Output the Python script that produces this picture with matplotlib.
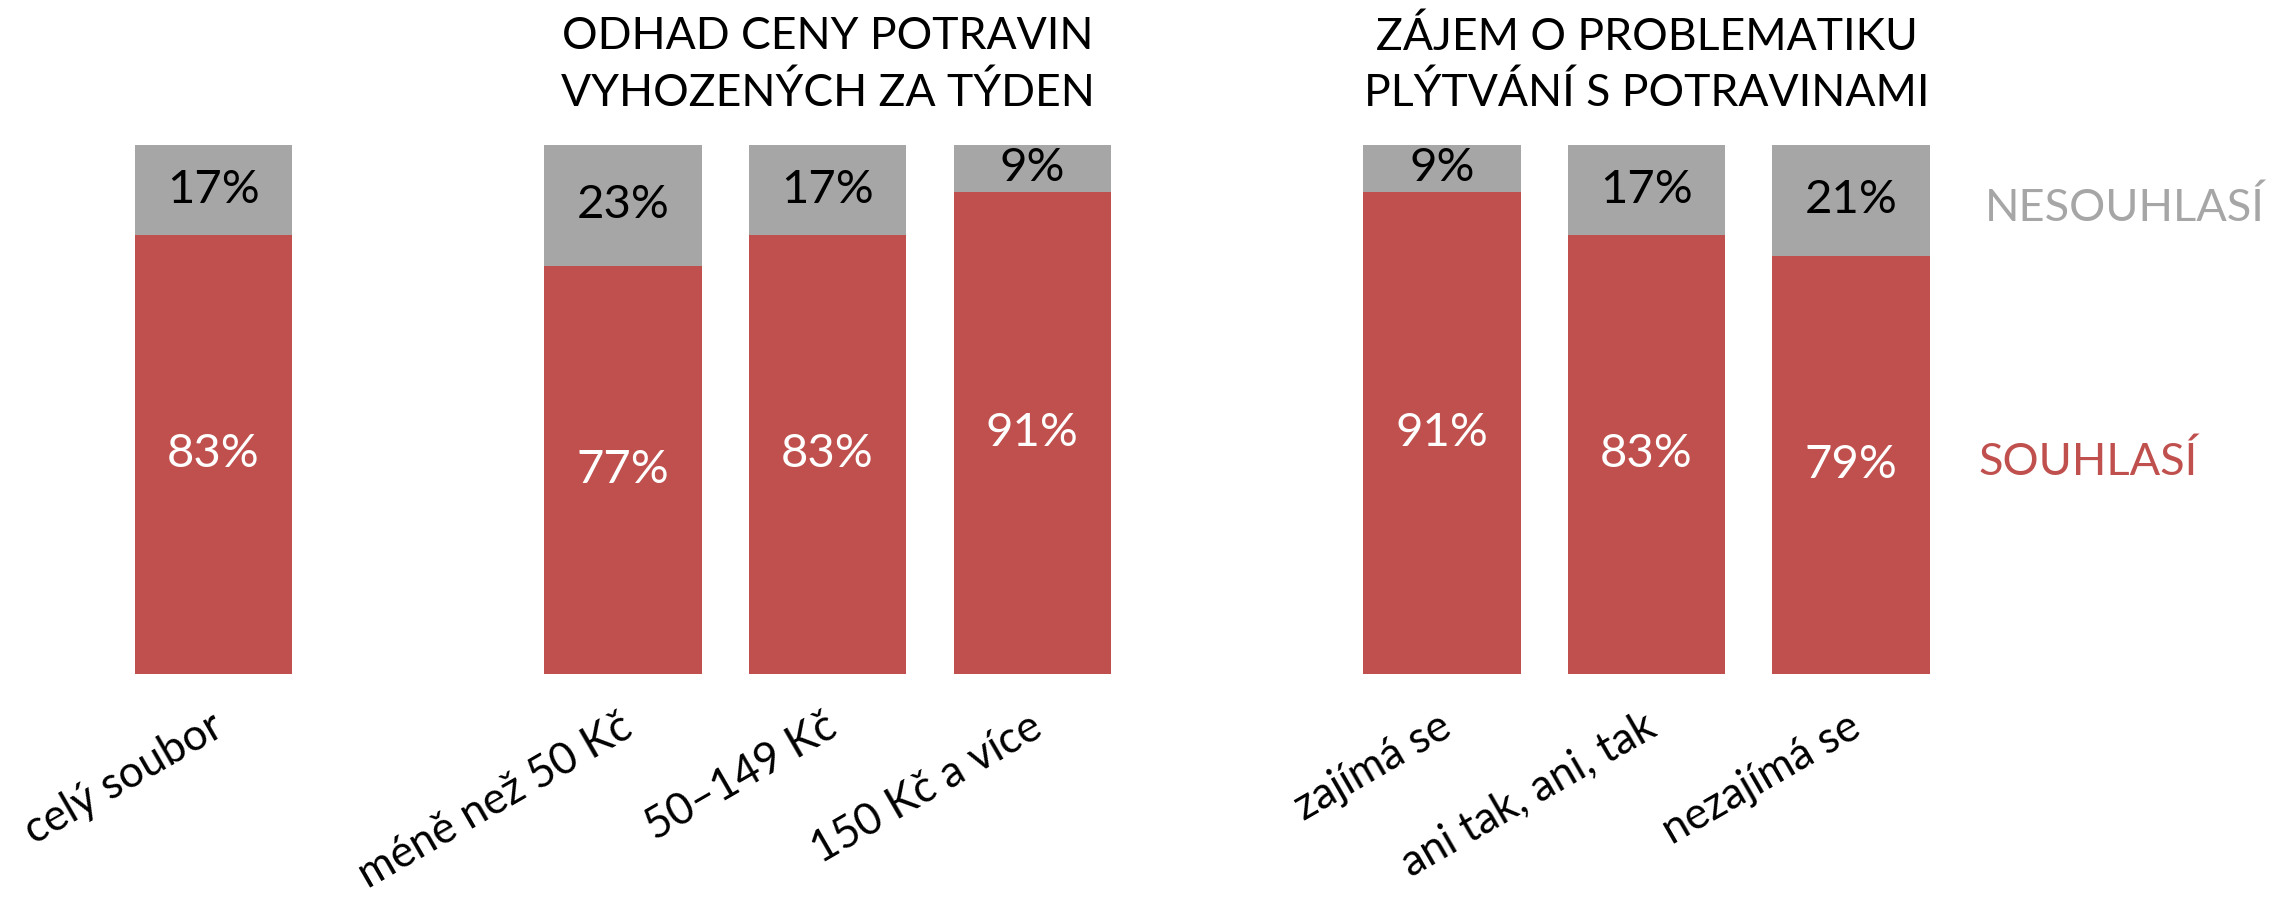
import matplotlib
matplotlib.use("Agg")
import matplotlib.pyplot as plt

plt.rcParams['font.family'] = ['Lato', 'DejaVu Sans']

labels = ["celý soubor", "méně než 50 Kč", "50–149 Kč", "150 Kč a více",
          "zajímá se", "ani tak, ani, tak", "nezajímá se"]
positions = [0, 2, 3, 4, 6, 7, 8]
souhlasi = [83, 77, 83, 91, 91, 83, 79]
nesouhlasi = [17, 23, 17, 9, 9, 17, 21]
group_titles = ["ODHAD CENY POTRAVIN\nVYHOZENÝCH ZA TÝDEN",
                "ZÁJEM O PROBLEMATIKU\nPLÝTVÁNÍ S POTRAVINAMI"]
title_pos = [3, 7]

red = "#C0504D"
grey = "#A6A6A6"

fig = plt.figure(figsize=(22.69, 8.97), dpi=100)
ax = fig.add_axes([0, 0, 1, 1])

ax.bar(positions, souhlasi, width=0.77, color=red)
ax.bar(positions, nesouhlasi, width=0.77, bottom=souhlasi, color=grey)

for x, s, n in zip(positions, souhlasi, nesouhlasi):
    ax.text(x, s / 2, f"{s}%", ha="center", va="center", color="white", fontsize=34)
    ax.text(x, s + n / 2, f"{n}%", ha="center", va="center", color="black", fontsize=34)

for x, lab in zip(positions, labels):
    ax.text(x - 0.02, -6, lab, rotation=30, rotation_mode="anchor",
            ha="right", va="top", fontsize=31.5)

for x, t in zip(title_pos, group_titles):
    ax.text(x, 115, t, ha="center", va="center", fontsize=32, linespacing=1.45)

ax.text(8.65, 88, "NESOUHLASÍ", color=grey, ha="left", va="center", fontsize=32.5)
ax.text(8.62, 40, "SOUHLASÍ", color=red, ha="left", va="center", fontsize=32.5)

ax.set_xlim(-1.042, 10.04)
ax.set_ylim(-42.1, 127.3)
ax.axis("off")

fig.savefig("out.png", dpi=100)
